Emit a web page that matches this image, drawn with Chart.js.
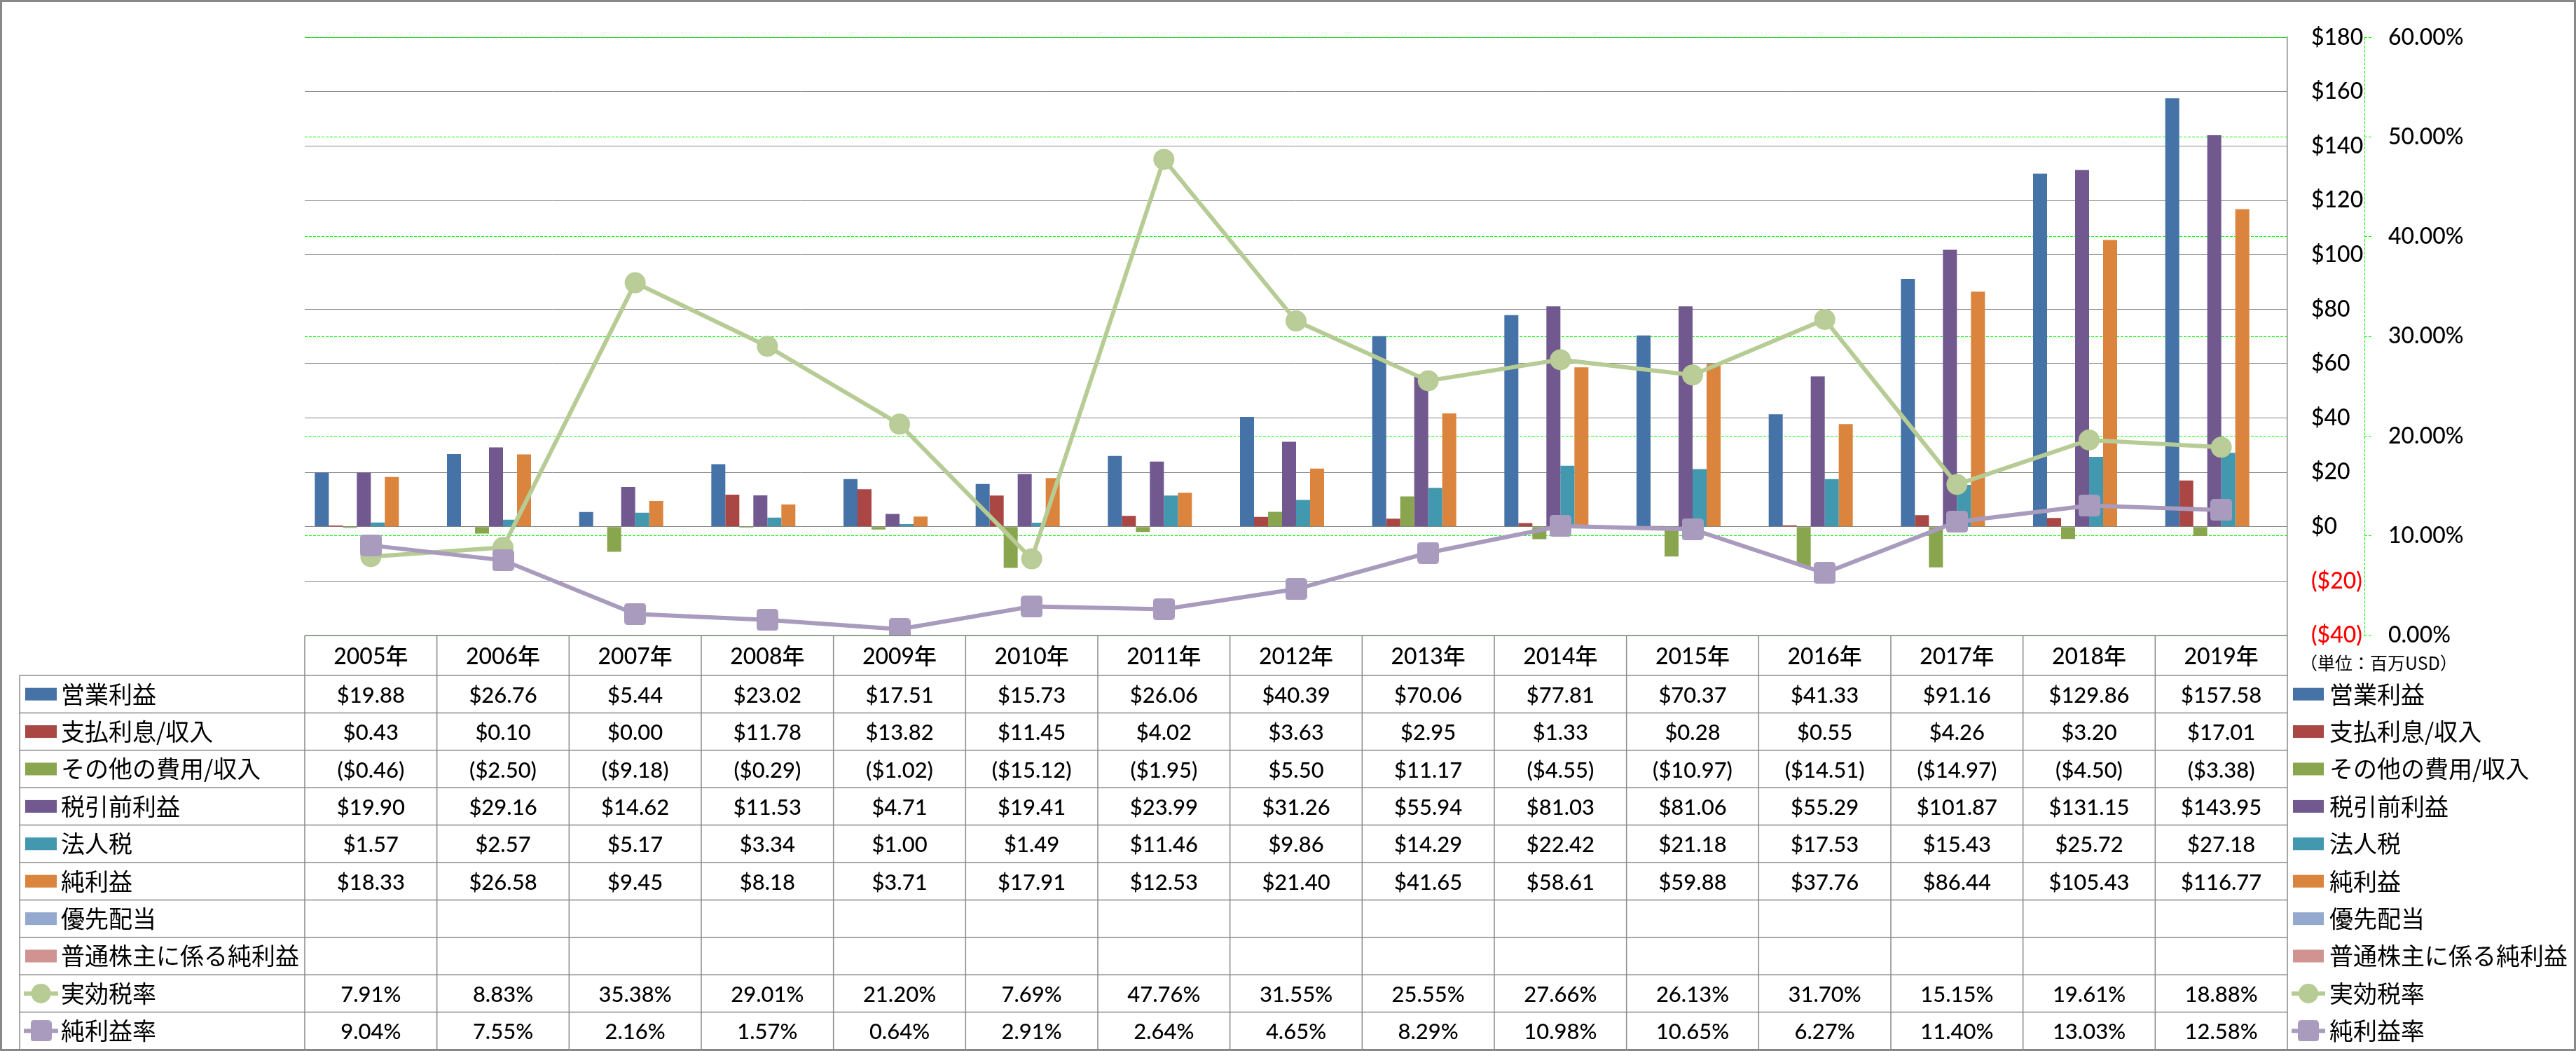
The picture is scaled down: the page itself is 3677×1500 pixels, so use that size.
<!DOCTYPE html>
<html><head><meta charset="utf-8">
<script src="https://cdn.jsdelivr.net/npm/chart.js@4"></script>
<style>html,body{margin:0;padding:0;background:#fff}canvas{display:block}</style>
</head><body>
<canvas id="c" width="3677" height="1500"></canvas>
<script>
// ---- data ----
const categories = ['2005年','2006年','2007年','2008年','2009年','2010年','2011年','2012年','2013年','2014年','2015年','2016年','2017年','2018年','2019年'];
const operatingIncome = [19.88,26.76,5.44,23.02,17.51,15.73,26.06,40.39,70.06,77.81,70.37,41.33,91.16,129.86,157.58];
const interestExpense = [0.43,0.10,0.00,11.78,13.82,11.45,4.02,3.63,2.95,1.33,0.28,0.55,4.26,3.20,17.01];
const otherExpense = [-0.46,-2.50,-9.18,-0.29,-1.02,-15.12,-1.95,5.50,11.17,-4.55,-10.97,-14.51,-14.97,-4.50,-3.38];
const pretaxIncome = [19.90,29.16,14.62,11.53,4.71,19.41,23.99,31.26,55.94,81.03,81.06,55.29,101.87,131.15,143.95];
const incomeTax = [1.57,2.57,5.17,3.34,1.00,1.49,11.46,9.86,14.29,22.42,21.18,17.53,15.43,25.72,27.18];
const netIncome = [18.33,26.58,9.45,8.18,3.71,17.91,12.53,21.40,41.65,58.61,59.88,37.76,86.44,105.43,116.77];
const preferredDividends = [null,null,null,null,null,null,null,null,null,null,null,null,null,null,null];
const commonNetIncome = [null,null,null,null,null,null,null,null,null,null,null,null,null,null,null];
const effectiveTaxRate = [7.91,8.83,35.38,29.01,21.20,7.69,47.76,31.55,25.55,27.66,26.13,31.70,15.15,19.61,18.88];
const netMargin = [9.04,7.55,2.16,1.57,0.64,2.91,2.64,4.65,8.29,10.98,10.65,6.27,11.40,13.03,12.58];
const seriesNames = ['営業利益','支払利息/収入','その他の費用/収入','税引前利益','法人税','純利益','優先配当','普通株主に係る純利益','実効税率','純利益率'];
const dollarAxisRange = [-40, 180, 20];
const percentAxisRange = [0, 60, 10];
const unitLabel = '（単位：百万USD）';

// ---- styles ----
const colors = ['#4572A7','#AA4643','#89A54E','#71588F','#4198AF','#DB843D','#93A9CF','#D19392','#B7CC94','#A99BBD'];
const NUM_FONT = "Lato, 'Noto Sans CJK JP', sans-serif";
const CJK_FONT = "'Noto Sans CJK JP', sans-serif";

function roundedSquare(size, r, color) {
  const c = document.createElement('canvas');
  c.width = size; c.height = size;
  const g = c.getContext('2d');
  g.fillStyle = color;
  g.beginPath();
  g.moveTo(r, 0); g.lineTo(size - r, 0); g.quadraticCurveTo(size, 0, size, r);
  g.lineTo(size, size - r); g.quadraticCurveTo(size, size, size - r, size);
  g.lineTo(r, size); g.quadraticCurveTo(0, size, 0, size - r);
  g.lineTo(0, r); g.quadraticCurveTo(0, 0, r, 0);
  g.fill();
  return c;
}
const purpleMarker = roundedSquare(31, 5, colors[9]);

const barSeries = [operatingIncome, interestExpense, otherExpense, pretaxIncome, incomeTax, netIncome, preferredDividends, commonNetIncome];
const datasets = barSeries.map((d, i) => ({
  type: 'bar', label: seriesNames[i], data: d, backgroundColor: colors[i], borderWidth: 0,
  yAxisID: 'y', order: 2, barPercentage: 1.0, categoryPercentage: 0.848
}));
datasets.push({
  type: 'line', label: seriesNames[8], data: effectiveTaxRate, yAxisID: 'y1', order: 1,
  borderColor: colors[8], backgroundColor: colors[8], borderWidth: 6,
  pointStyle: 'circle', pointRadius: 14, pointBorderWidth: 2, pointBorderColor: colors[8], pointBackgroundColor: '#BACD99', tension: 0
});
datasets.push({
  type: 'line', label: seriesNames[9], data: netMargin, yAxisID: 'y1', order: 0,
  borderColor: colors[9], backgroundColor: colors[9], borderWidth: 6,
  pointStyle: purpleMarker, pointRadius: 15, tension: 0
});

function fmtDollar(v) {
  if (v === null || v === undefined) return '';
  return v < 0 ? '($' + Math.abs(v).toFixed(2) + ')' : '$' + v.toFixed(2);
}
function fmtPct(v) { return (v === null || v === undefined) ? '' : v.toFixed(2) + '%'; }

const tableRows = [
  {data: operatingIncome, kind: 'bar', fmt: fmtDollar},
  {data: interestExpense, kind: 'bar', fmt: fmtDollar},
  {data: otherExpense, kind: 'bar', fmt: fmtDollar},
  {data: pretaxIncome, kind: 'bar', fmt: fmtDollar},
  {data: incomeTax, kind: 'bar', fmt: fmtDollar},
  {data: netIncome, kind: 'bar', fmt: fmtDollar},
  {data: preferredDividends, kind: 'bar', fmt: fmtDollar},
  {data: commonNetIncome, kind: 'bar', fmt: fmtDollar},
  {data: effectiveTaxRate, kind: 'circle', fmt: fmtPct},
  {data: netMargin, kind: 'square', fmt: fmtPct}
];

function drawKey(ctx, kind, color, x, y, w) {
  if (kind === 'bar') {
    ctx.fillStyle = color;
    ctx.fillRect(x, y - 9, w, 18);
  } else {
    ctx.strokeStyle = color; ctx.lineWidth = 6;
    ctx.beginPath(); ctx.moveTo(x - 2, y); ctx.lineTo(x + w + 2, y); ctx.stroke();
    const cx = x + w / 2;
    if (kind === 'circle') {
      ctx.fillStyle = color; ctx.beginPath(); ctx.arc(cx, y, 14, 0, Math.PI * 2); ctx.fill();
    } else {
      ctx.drawImage(purpleMarker, cx - 15, y - 15, 30, 30);
    }
  }
}

const tablePlugin = {
  id: 'dataTable',
  afterDraw(chart) {
    const ctx = chart.ctx;
    const xs = chart.scales.x;
    const area = chart.chartArea;
    const y1 = chart.scales.y1;
    const n = categories.length;
    const colW = area.width / n;
    const top = area.bottom;
    const headerH = 57, rowH = 53.4;
    const tableLeft = 28;
    const bottom = top + headerH + rowH * tableRows.length;
    ctx.save();

    // dashed vertical percent axis line
    ctx.strokeStyle = '#00FF00'; ctx.lineWidth = 1; ctx.setLineDash([4, 2]);
    ctx.beginPath(); ctx.moveTo(Math.round(y1.left) + 0.5, y1.top); ctx.lineTo(Math.round(y1.left) + 0.5, y1.bottom); ctx.stroke();
    ctx.setLineDash([]);

    // table grid
    ctx.strokeStyle = '#8a8a8a'; ctx.lineWidth = 1.5;
    const hline = (x1, x2, y) => { ctx.beginPath(); ctx.moveTo(x1, y); ctx.lineTo(x2, y); ctx.stroke(); };
    const vline = (x, ya, yb) => { ctx.beginPath(); ctx.moveTo(x, ya); ctx.lineTo(x, yb); ctx.stroke(); };
    hline(area.left, area.right, top);
    for (let r = 0; r <= tableRows.length; r++) hline(tableLeft, area.right, top + headerH + r * rowH);
    vline(tableLeft, top + headerH, bottom);
    for (let i = 0; i < n; i++) {
      const cx = xs.getPixelForValue(i);
      vline(cx - colW / 2, top, bottom);
      if (i === n - 1) vline(cx + colW / 2, top, bottom);
    }

    // header text
    ctx.fillStyle = '#000';
    ctx.textAlign = 'center'; ctx.textBaseline = 'middle';
    ctx.font = '500 32px ' + NUM_FONT;
    for (let i = 0; i < n; i++) ctx.fillText(categories[i], xs.getPixelForValue(i), top + headerH / 2 + 2);

    // rows
    tableRows.forEach((row, r) => {
      const cy = top + headerH + r * rowH + rowH / 2;
      ctx.font = '500 31px ' + NUM_FONT; ctx.textAlign = 'center'; ctx.fillStyle = '#000';
      for (let i = 0; i < n; i++) ctx.fillText(row.fmt(row.data[i]), xs.getPixelForValue(i), cy + 2);
      drawKey(ctx, row.kind, colors[r], 36, cy, 45);
      drawKey(ctx, row.kind, colors[r], 3273, cy, 44);
      ctx.font = '34px ' + CJK_FONT; ctx.textAlign = 'left'; ctx.fillStyle = '#000';
      ctx.fillText(seriesNames[r], 87, cy);
      ctx.fillText(seriesNames[r], 3325, cy);
    });

    // unit label
    ctx.font = '25px ' + CJK_FONT; ctx.textAlign = 'left'; ctx.fillStyle = '#000';
    ctx.fillText(unitLabel, 3283, 946);

    // outer border
    ctx.strokeStyle = '#888'; ctx.lineWidth = 3;
    ctx.strokeRect(1.5, 1.5, chart.width - 3, chart.height - 3);
    ctx.restore();
  }
};

new Chart(document.getElementById('c'), {
  data: { labels: categories, datasets },
  options: {
    responsive: false, animation: false,
    layout: { padding: { left: 435, top: 21, right: 102, bottom: 593 } },
    plugins: { legend: { display: false }, tooltip: { enabled: false } },
    scales: {
      x: { type: 'category', display: false, offset: true, grid: { display: false } },
      y: {
        position: 'right', weight: 0, min: dollarAxisRange[0], max: dollarAxisRange[1],
        afterFit: s => { s.width = 110; },
        grid: { color: '#868686', lineWidth: 1, drawTicks: false },
        border: { display: true, color: '#868686', width: 1.5 },
        ticks: {
          stepSize: dollarAxisRange[2], padding: 34, autoSkip: false,
          font: { family: NUM_FONT, size: 32, weight: 500 },
          color: c => c.tick && c.tick.value < 0 ? '#FF0000' : '#000000',
          callback: v => v < 0 ? '($' + Math.abs(v) + ')' : '$' + v
        }
      },
      y1: {
        position: 'right', weight: 1, min: percentAxisRange[0], max: percentAxisRange[1],
        afterFit: s => { s.width = 200; },
        grid: { color: '#00FF00', lineWidth: 1, drawTicks: true, tickLength: 12, tickColor: '#00FF00', tickBorderDash: [4, 2] },
        border: { display: false, dash: [4, 2] },
        ticks: {
          stepSize: percentAxisRange[2], padding: 22, autoSkip: false,
          font: { family: NUM_FONT, size: 32, weight: 500 }, color: '#000',
          callback: v => v.toFixed(2) + '%'
        }
      }
    }
  },
  plugins: [tablePlugin]
});
</script>
</body></html>
